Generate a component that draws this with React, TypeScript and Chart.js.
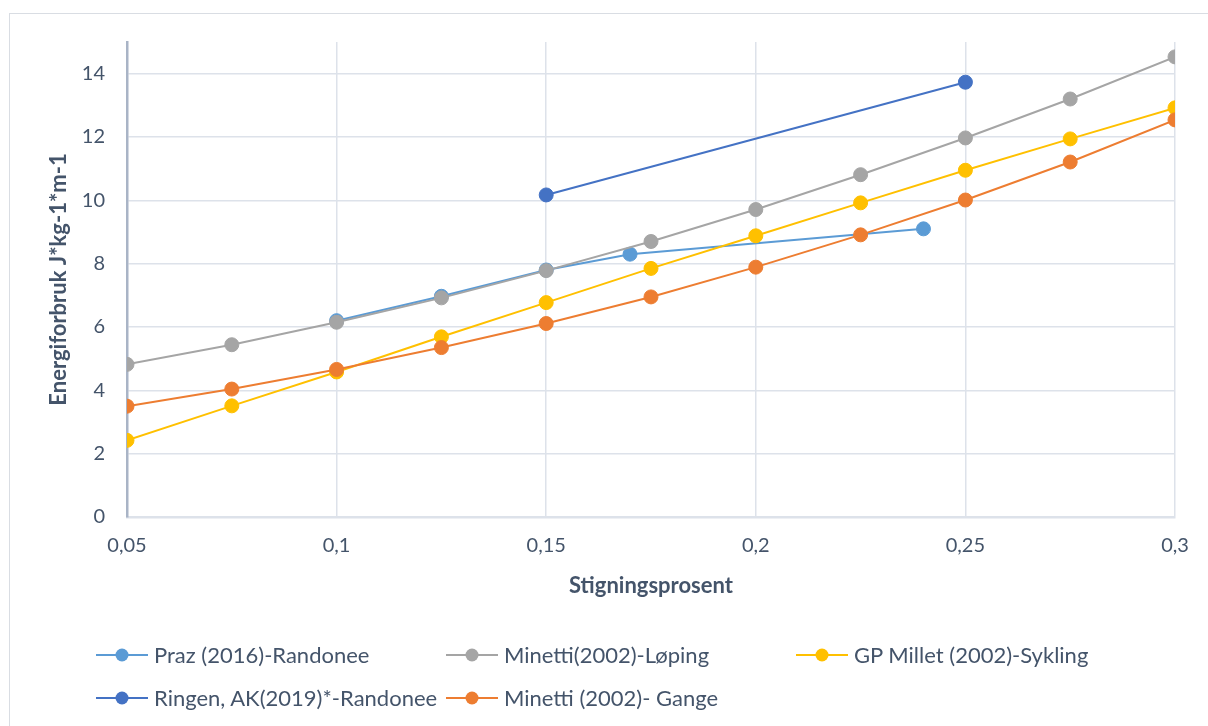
import React, { useEffect, useRef } from "react";
import { Chart, registerables } from "chart.js";

Chart.register(...registerables);

// Stigningsprosent (x) for each series, with the matching energy cost values (y)
const prazX = [0.1, 0.125, 0.15, 0.17, 0.24];
const prazY = [6.2, 6.97, 7.8, 8.3, 9.1];

const minettiLopingX = [0.05, 0.075, 0.1, 0.125, 0.15, 0.175, 0.2, 0.225, 0.25, 0.275, 0.3];
const minettiLopingY = [4.82, 5.44, 6.15, 6.92, 7.78, 8.7, 9.71, 10.81, 11.97, 13.2, 14.53];

const milletX = [0.05, 0.075, 0.1, 0.125, 0.15, 0.175, 0.2, 0.225, 0.25, 0.275, 0.3];
const milletY = [2.42, 3.51, 4.58, 5.69, 6.77, 7.85, 8.88, 9.92, 10.95, 11.94, 12.92];

const ringenX = [0.15, 0.25];
const ringenY = [10.17, 13.73];

const minettiGangeX = [0.05, 0.075, 0.1, 0.125, 0.15, 0.175, 0.2, 0.225, 0.25, 0.275, 0.3];
const minettiGangeY = [3.5, 4.04, 4.66, 5.35, 6.11, 6.95, 7.89, 8.91, 10.01, 11.21, 12.54];

const seriesNames = [
  "Praz (2016)-Randonee",
  "Minetti(2002)-Løping",
  "GP Millet (2002)-Sykling",
  "Ringen, AK(2019)*-Randonee",
  "Minetti (2002)- Gange",
];
const seriesColors = ["#5b9bd5", "#a5a5a5", "#ffc000", "#4472c4", "#ed7d31"];
const seriesX = [prazX, minettiLopingX, milletX, ringenX, minettiGangeX];
const seriesY = [prazY, minettiLopingY, milletY, ringenY, minettiGangeY];

const xTitle = "Stigningsprosent";
const yTitle = "Energiforbruk J*kg-1*m-1";

const textColor = "#44546a";
const gridColor = "#dde2ea";
const fontFamily = "Lato, 'Open Sans', sans-serif";

function formatComma(v: number): string {
  return String(Number(v.toFixed(3))).replace(".", ",");
}

function LegendItem({ name, color }: { name: string; color: string }) {
  return (
    <div style={{ display: "flex", alignItems: "center", whiteSpace: "nowrap" }}>
      <svg width={52} height={16} style={{ marginRight: 6, flex: "none" }}>
        <line x1={0} y1={8} x2={52} y2={8} stroke={color} strokeWidth={2} />
        <circle cx={26} cy={8} r={6.5} fill={color} />
      </svg>
      <span>{name}</span>
    </div>
  );
}

export default function App() {
  const canvasRef = useRef<HTMLCanvasElement | null>(null);

  useEffect(() => {
    const canvas = canvasRef.current;
    if (!canvas) return;
    const n = seriesNames.length;
    const chart = new Chart(canvas, {
      type: "line",
      data: {
        datasets: seriesNames.map((name, i) => ({
          label: name,
          data: seriesX[i].map((x, j) => ({ x, y: seriesY[i][j] })),
          borderColor: seriesColors[i],
          backgroundColor: seriesColors[i],
          pointBackgroundColor: seriesColors[i],
          pointBorderColor: seriesColors[i],
          pointRadius: 7,
          pointBorderWidth: 1,
          borderWidth: 2,
          tension: 0,
          fill: false,
          order: n - 1 - i,
        })),
      },
      options: {
        responsive: false,
        animation: false,
        layout: { padding: { left: 0, top: 42, right: 33, bottom: 109 } },
        plugins: {
          legend: { display: false },
          tooltip: { enabled: false },
        },
        scales: {
          x: {
            type: "linear",
            min: 0.05,
            max: 0.3,
            afterFit: (scale: any) => {
              scale.height = 100;
            },
            ticks: {
              stepSize: 0.05,
              color: textColor,
              font: { family: fontFamily, size: 20 },
              padding: 17,
              maxRotation: 0,
              callback: (v: any) => formatComma(Number(v)),
            },
            grid: { color: gridColor, lineWidth: 1.5, drawTicks: false },
            border: { color: gridColor, width: 2.5 },
            title: {
              display: true,
              text: xTitle,
              color: textColor,
              font: { family: fontFamily, size: 22, weight: "bold" },
              padding: { top: 0, bottom: 18 },
            },
          },
          y: {
            type: "linear",
            min: 0,
            max: 15,
            afterFit: (scale: any) => {
              scale.width = 127;
            },
            afterBuildTicks: (scale: any) => {
              scale.ticks = scale.ticks.filter((t: any) => t.value <= 14);
            },
            ticks: {
              stepSize: 2,
              color: textColor,
              font: { family: fontFamily, size: 20 },
              padding: 22,
            },
            grid: { color: gridColor, lineWidth: 1.5, drawTicks: false },
            border: { color: "#a9b4c6", width: 2.5 },
            title: {
              display: true,
              text: yTitle,
              color: textColor,
              font: { family: fontFamily, size: 22, weight: "bold" },
              padding: { top: 46, bottom: 0 },
            },
          },
        },
      },
    } as any);
    return () => chart.destroy();
  }, []);

  return (
    <div
      style={{
        position: "fixed",
        left: 0,
        top: 0,
        width: 1208,
        height: 726,
        overflow: "hidden",
        background: "#ffffff",
        fontFamily,
      }}
    >
      <div
        style={{
          position: "absolute",
          left: 9,
          top: 13,
          width: 1300,
          height: 800,
          border: "1px solid #d9dde3",
        }}
      />
      <canvas
        ref={canvasRef}
        width={1208}
        height={726}
        style={{ position: "absolute", left: 0, top: 0, width: 1208, height: 726 }}
      />
      <div
        style={{
          position: "absolute",
          left: 96,
          top: 641,
          display: "grid",
          gridTemplateColumns: "350px 350px 350px",
          rowGap: 16,
          fontSize: 22,
          lineHeight: "27px",
          color: textColor,
        }}
      >
        {seriesNames.map((name, i) => (
          <LegendItem key={name} name={name} color={seriesColors[i]} />
        ))}
      </div>
    </div>
  );
}
